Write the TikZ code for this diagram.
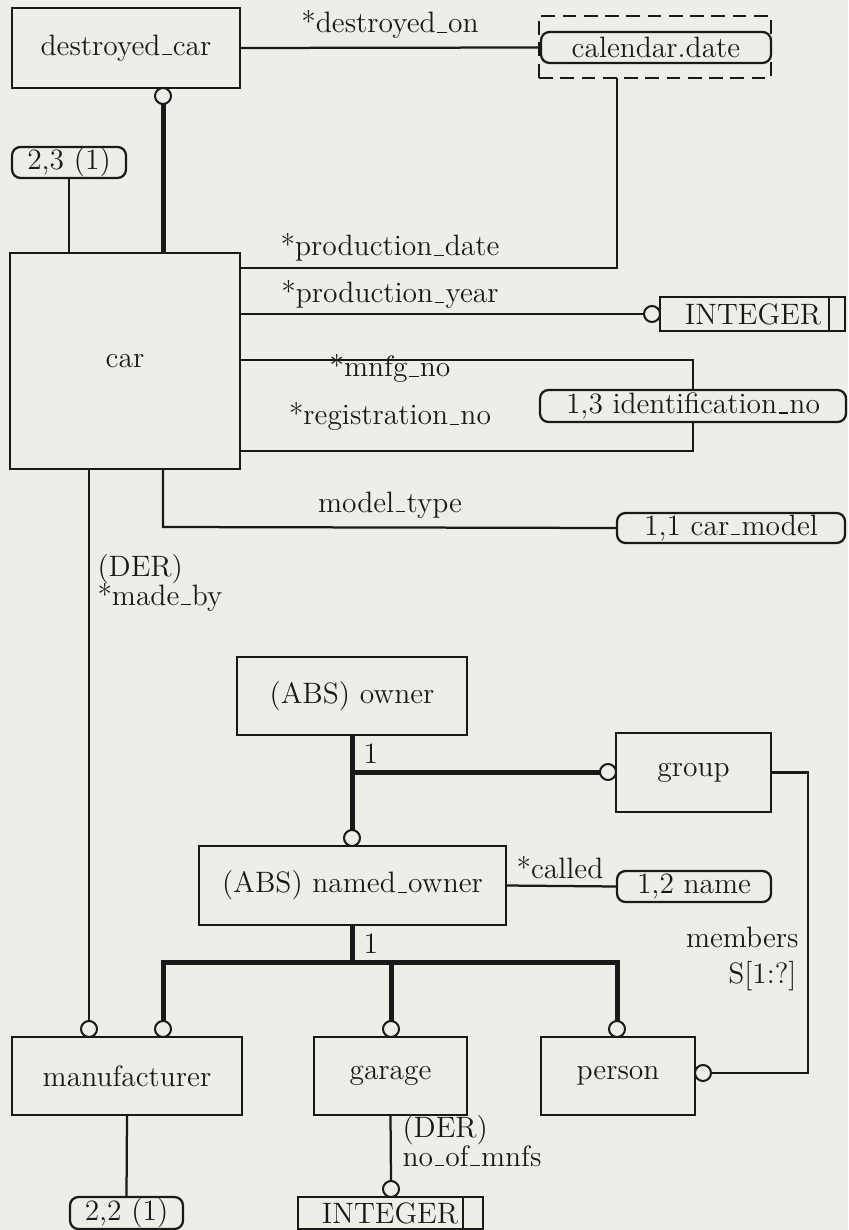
\documentclass[tikz,border=0pt]{standalone}
\usetikzlibrary{fit}
\definecolor{bg}{RGB}{238,237,232}
\definecolor{ink}{RGB}{25,25,25}
\newcommand{\us}{\leavevmode\kern.06em\vbox{\hrule width .32em height .45pt}\kern.04em}
\begin{document}
\begin{tikzpicture}[x=0.4pt,y=-0.4pt,
  lw/.style={line width=0.9pt, draw=ink},
  thk/.style={line width=2pt, draw=ink},
  ent/.style={draw=ink, line width=0.9pt, fill=bg, inner sep=0pt, outer sep=0pt},
  lab/.style={draw=ink, line width=0.9pt, fill=bg, rounded corners=3.4pt, inner sep=0pt, outer sep=0pt},
  ring/.style={circle, draw=ink, line width=0.8pt, fill=bg, minimum size=6.4pt, inner sep=0pt, outer sep=0pt},
  ctr/.style={label={[inner sep=0pt]center:#1}},
  txt/.style={inner sep=0pt, anchor=base},
  txl/.style={inner sep=0pt, anchor=base west},
  txr/.style={inner sep=0pt, anchor=base east},
  every node/.append style={font=\fontsize{11.8}{13}\selectfont, text=ink},
  every label/.append style={font=\fontsize{11.8}{13}\selectfont, text=ink}]

\fill[bg] (0,0) rectangle (848,1230);
\useasboundingbox (0,0) rectangle (848,1230);

% entities
\node[ent, fit={(12,8) (240,88)}, ctr={destroyed\us car}] (dc) {};
\node[ent, fit={(10,253) (240,469)}, ctr={car}] (car) {};
\node[ent, fit={(237,657) (467,735)}, ctr={(ABS) owner}] (owner) {};
\node[ent, fit={(199,846) (506,925)}, ctr={(ABS) named\us owner}] (nowner) {};
\node[ent, fit={(616,733) (771,812)}, ctr={group}] (group) {};
\node[ent, fit={(12,1037) (242,1115)}, ctr={manufacturer}] (manu) {};
\node[ent, fit={(314,1037) (467,1115)}, ctr={garage}] (garage) {};
\node[ent, fit={(541,1037) (695,1115)}, ctr={person}] (person) {};

% simple types
\node[ent, fit={(660,297) (845,331)}] (int1) {};
\draw[lw] (829,297) -- (829,331);
\node at (753,314) {INTEGER};
\node[ent, fit={(298,1197) (483,1229)}] (int2) {};
\draw[lw] (463,1197) -- (463,1229);
\node at (390,1213) {INTEGER};

% labels
\node[lab, fit={(12,147) (126,178)}, ctr={2,3 (1)}] (l23) {};
\node[draw=ink, line width=1pt, dash pattern=on 5.5pt off 3pt, inner sep=0pt, outer sep=0pt, fit={(539,16) (771,78)}] (calgrp) {};
\node[lab, fit={(541,32) (771,63)}, ctr={calendar.date}] (cal) {};
\node[lab, fit={(617,513) (845,543)}, ctr={1,1 car\us model}] (cm) {};
\node[lab, fit={(617,871) (771,902)}, ctr={1,2 name}] (nm) {};
\node[lab, fit={(70,1197) (183,1229)}, ctr={2,2 (1)}] (l22) {};

% rings
\node[ring] (c1) at (163,96) {};
\node[ring] (c2) at (652,314) {};
\node[ring] (c3) at (89,1029) {};
\node[ring] (c4) at (163,1029) {};
\node[ring] (c6) at (391,1029) {};
\node[ring] (c5) at (617,1029) {};
\node[ring] (c7) at (352,838) {};
\node[ring] (c8) at (608,772) {};
\node[ring] (c9) at (703,1073) {};
\node[ring] (c10) at (391,1189) {};

% coordinates
\coordinate (pd) at (617,268);
\coordinate (br1) at (693,360);
\coordinate (br2) at (693,451);
\coordinate (mt) at (163,527);
\coordinate (tl) at (163,962);
\coordinate (tr) at (617,962);
\coordinate (gp1) at (808,771);

% connectors
\draw[lw] (dc.east) -- (cal.west);
\node[txt] at (390,33) {*destroyed\us on};
\draw[thk] (c1.south) -- (c1.south |- car.north);
\draw[lw] (l23.south) -- (l23.south |- car.north);

\draw[lw] (calgrp.south -| pd) -- (pd) -- (pd -| car.east);
\node[txt] at (390,256) {*production\us date};
\draw[lw] (c2.west) -- (c2.west -| car.east);
\node[txt] at (390,303) {*production\us year};

\draw[lw] (br1 -| car.east) -- (br1) -- (br2) -- (br2 -| car.east);
\node[txt] at (390,377) {*mnfg\us no};
\node[txt] at (390,425) {*registration\us no};
\node[lab, fit={(540,390) (846,422)}, ctr={1,3 identification\us no}] (idno) {};

\draw[lw] (car.south -| mt) -- (mt) -- (cm.west);
\node[txt] at (390,512) {model\us type};

\draw[lw] (car.south -| c3) -- (c3.north);
\node[txl] at (97,576) {(DER)};
\node[txl] at (97,605) {*made\us by};

\draw[thk] (owner.south) -- (c7.north);
\draw[thk] (owner.south |- c8) -- (c8.west);
\node[txl] at (363,763) {1};

\draw[lw] (group.east) -- (group.east -| gp1) -- (gp1 |- c9) -- (c9.east);
\node[txr] at (799,947) {members};
\node[txr] at (797,983) {S[1:?]};

\draw[lw] (nowner.east) -- (nm.west);
\node[txt] at (560,878) {*called};

\draw[thk] (c4.north) -- (tl) -- (tr) -- (c5.north);
\draw[thk] (nowner.south) -- (nowner.south |- tl);
\draw[thk] (c6.north) -- (c6.north |- tl);
\node[txl] at (363,953) {1};

\draw[lw] (garage.south) -- (c10.north);
\node[txl] at (402,1137) {(DER)};
\node[txl] at (402,1166) {no\us of\us mnfs};

\draw[lw] (manu.south) -- (l22.north);
\end{tikzpicture}
\end{document}
